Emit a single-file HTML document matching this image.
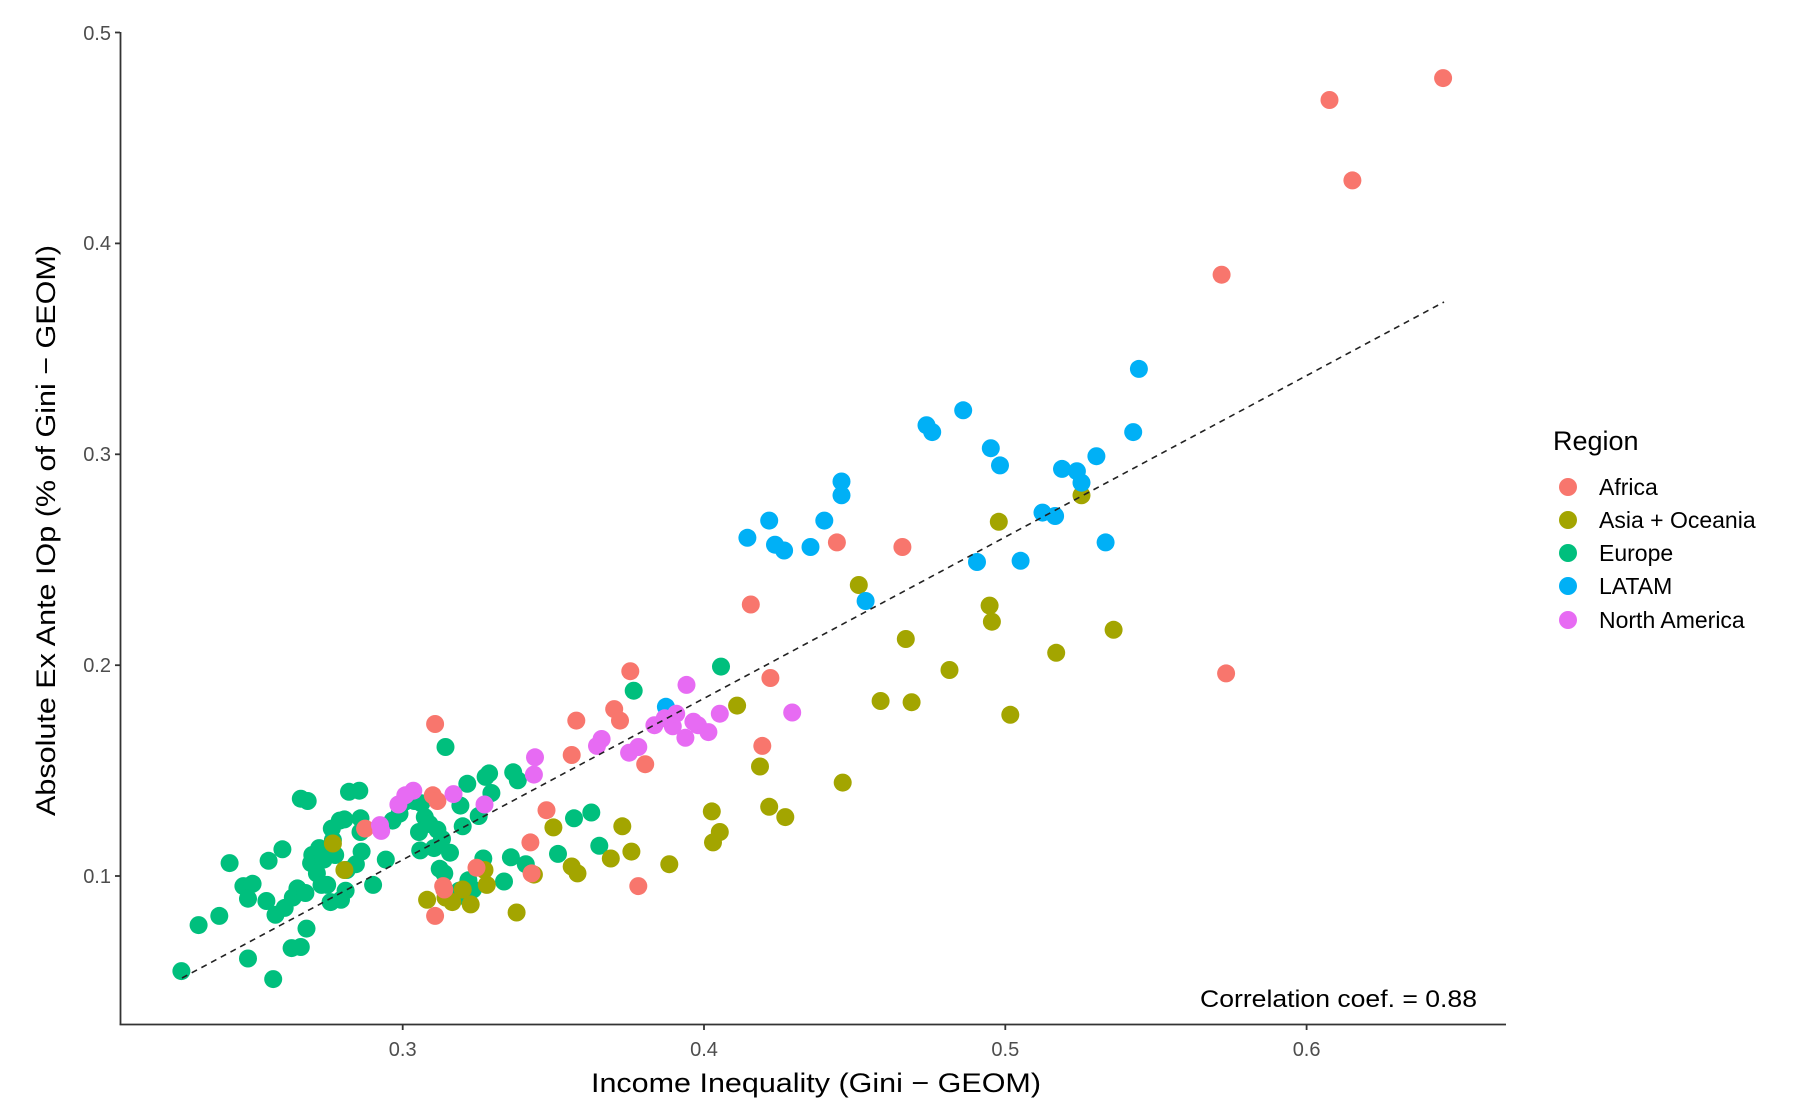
<!DOCTYPE html>
<html><head><meta charset="utf-8">
<style>
html,body{margin:0;padding:0;background:#fff;}
svg{display:block;font-family:"Liberation Sans",Arial,sans-serif;}
</style></head>
<body>
<svg id="s" width="1800" height="1113" viewBox="0 0 1800 1113" xmlns="http://www.w3.org/2000/svg">
<rect width="1800" height="1113" fill="#fff"/>
<g id="pts"></g>
<line x1="182" y1="978" x2="1444" y2="302" stroke="#222" stroke-width="1.6" stroke-dasharray="6,5"/>
<g stroke="#333" stroke-width="1.8">
<line x1="120.5" y1="32" x2="120.5" y2="1025"/>
<line x1="119.6" y1="1024.5" x2="1506" y2="1024.5"/>
<line x1="115" y1="32.5" x2="120" y2="32.5"/>
<line x1="115" y1="243.4" x2="120" y2="243.4"/>
<line x1="115" y1="454.3" x2="120" y2="454.3"/>
<line x1="115" y1="665.2" x2="120" y2="665.2"/>
<line x1="115" y1="876" x2="120" y2="876"/>
<line x1="402.7" y1="1025" x2="402.7" y2="1030"/>
<line x1="704" y1="1025" x2="704" y2="1030"/>
<line x1="1005.3" y1="1025" x2="1005.3" y2="1030"/>
<line x1="1306.6" y1="1025" x2="1306.6" y2="1030"/>
</g>
<g fill="#4d4d4d" font-size="20" text-anchor="end">
<text x="111" y="40">0.5</text>
<text x="111" y="250">0.4</text>
<text x="111" y="461">0.3</text>
<text x="111" y="672">0.2</text>
<text x="111" y="883">0.1</text>
</g>
<g fill="#4d4d4d" font-size="20" text-anchor="middle">
<text x="402.7" y="1056">0.3</text>
<text x="704" y="1056">0.4</text>
<text x="1005.3" y="1056">0.5</text>
<text x="1306.6" y="1056">0.6</text>
</g>
<text x="591" y="1092" font-size="27" textLength="450" lengthAdjust="spacingAndGlyphs" fill="#000">Income Inequality (Gini − GEOM)</text>
<text transform="translate(55,531) rotate(-90)" x="-285" font-size="27" textLength="571" lengthAdjust="spacingAndGlyphs" fill="#000">Absolute Ex Ante IOp (% of Gini − GEOM)</text>
<text x="1200" y="1007" font-size="24" textLength="277" lengthAdjust="spacingAndGlyphs" fill="#000">Correlation coef. = 0.88</text>
<text x="1553" y="450" font-size="27" fill="#000">Region</text>
<g font-size="23" fill="#000">
<circle cx="1568" cy="487" r="9" fill="#F8766D"/><text x="1599" y="495">Africa</text>
<circle cx="1568" cy="520" r="9" fill="#A3A500"/><text x="1599" y="528">Asia + Oceania</text>
<circle cx="1568" cy="553" r="9" fill="#00BF7D"/><text x="1599" y="561">Europe</text>
<circle cx="1568" cy="586" r="9" fill="#00B0F6"/><text x="1599" y="594">LATAM</text>
<circle cx="1568" cy="620" r="9" fill="#E76BF3"/><text x="1599" y="628">North America</text>
</g>
</svg>
<script>
var k=1800/1560, kx=k*0.995, ky=k*0.996;
var D={
"#F8766D":[[1257,68],[1158,87],[1178,157],[1064,239],[1068,586],[729,472],[786,476],[654,526],[549,584],[671,590],[502,627],[535,617],[540,627],[498,657],[664,649],[562,665],[379,630],[377,692],[381,697],[318,721],[476,705],[462,733],[415,755],[386,771],[387,774],[379,797],[556,771],[463,760]],
"#A3A500":[[942,431],[870,454],[748,509],[789,556],[862,527],[864,541],[970,548],[827,583],[920,568],[767,610],[794,611],[880,622],[642,614],[662,667],[670,702],[684,711],[734,681],[620,706],[627,724],[621,733],[542,719],[482,720],[550,741],[532,747],[583,752],[498,754],[503,760],[465,761],[290,734],[300,757],[372,783],[388,781],[403,774],[410,787],[424,770],[422,757],[450,794],[394,785]],
"#00BF7D":[[158,845],[173,805],[191,797],[216,834],[238,852],[200,751],[212,771],[220,769],[216,782],[234,749],[246,739],[232,784],[240,796],[248,790],[255,781],[259,773],[266,777],[254,825],[262,824],[267,808],[262,695],[268,697],[272,744],[271,751],[278,738],[282,748],[292,744],[290,731],[296,714],[300,713],[314,712],[313,688],[315,741],[276,760],[280,770],[285,770],[288,785],[297,783],[301,775],[302,757],[310,752],[325,770],[336,748],[342,714],[348,708],[352,698],[361,697],[367,699],[370,711],[374,717],[381,722],[385,730],[378,738],[392,742],[383,756],[388,650],[401,701],[403,719],[407,682],[417,710],[423,676],[426,673],[428,690],[421,747],[412,774],[408,766],[439,767],[447,672],[451,679],[445,746],[458,752],[486,743],[500,712],[515,707],[522,736],[552,601],[628,580],[400,775],[405,780],[387,760],[365,724],[366,740],[314,724],[289,721],[304,689]],
"#00B0F6":[[992,321],[839,357],[807,370],[812,376],[863,390],[871,405],[955,397],[925,408],[938,410],[942,420],[733,419],[733,431],[670,453],[651,468],[675,474],[683,479],[706,476],[718,453],[908,446],[919,449],[987,376],[963,472],[851,489],[889,488],[754,523],[580,615]],
"#E76BF3":[[598,596],[627,621],[608,631],[617,637],[597,642],[586,632],[579,625],[570,631],[589,621],[556,650],[548,655],[524,643],[520,649],[690,620],[466,659],[465,674],[395,691],[360,688],[353,692],[347,700],[331,718],[422,700],[332,723],[604,628]]
};
var g=document.getElementById("pts"),h="";
["#00BF7D","#A3A500","#F8766D","#00B0F6","#E76BF3"].forEach(function(c){
D[c].forEach(function(p){h+='<circle cx="'+(p[0]*kx).toFixed(1)+'" cy="'+(p[1]*ky).toFixed(1)+'" r="9" fill="'+c+'"/>';});
});
g.innerHTML=h;
</script>
</body></html>
